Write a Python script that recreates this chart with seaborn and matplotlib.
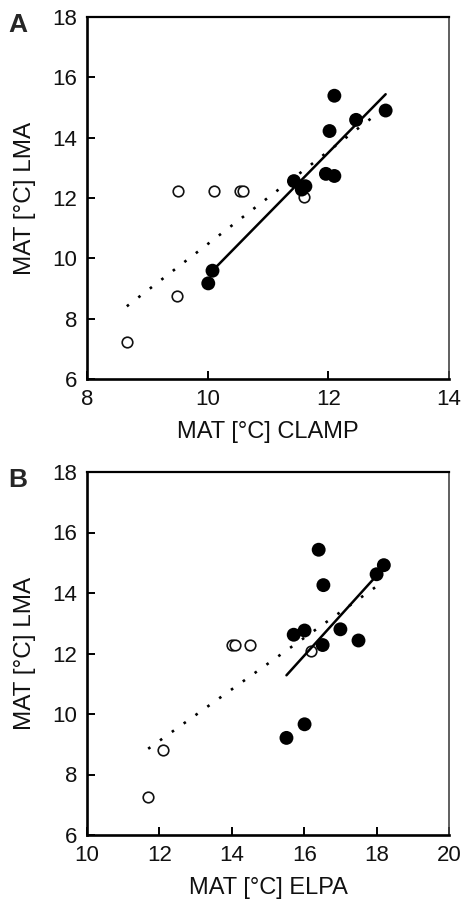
import matplotlib
matplotlib.use("Agg")
import matplotlib.pyplot as plt
import seaborn as sns
import numpy as np

# ---------------- data ----------------
# Panel A: CLAMP vs LMA
clamp_open = [8.66, 9.49, 9.50, 10.11, 10.54, 10.58, 11.59]
lma_open_A = [7.22, 8.76, 12.24, 12.24, 12.24, 12.24, 12.03]
clamp_filled = [10.01, 10.08, 11.43, 11.62, 11.56, 11.96, 12.10, 12.02, 12.10, 12.46, 12.95]
lma_filled_A = [9.17, 9.59, 12.56, 12.39, 12.28, 12.80, 12.73, 14.22, 15.39, 14.59, 14.90]
fitA_solid_x = [10.08, 12.95]
fitA_solid_y = [9.59, 15.44]
fitA_dotted_x = [8.66, 12.95]
fitA_dotted_y = [8.41, 15.01]

# Panel B: ELPA vs LMA
elpa_open = [11.69, 12.10, 14.01, 14.08, 14.50, 16.19]
lma_open_B = [7.26, 8.81, 12.27, 12.27, 12.27, 12.07]
elpa_filled = [15.51, 16.01, 15.71, 17.50, 16.51, 17.00, 16.01, 16.53, 16.40, 18.00, 18.20]
lma_filled_B = [9.21, 9.66, 12.62, 12.43, 12.28, 12.80, 12.76, 14.26, 15.43, 14.62, 14.92]
fitB_solid_x = [15.51, 18.20]
fitB_solid_y = [11.28, 14.84]
fitB_dotted_x = [11.69, 18.20]
fitB_dotted_y = [8.85, 14.39]

ylabel = "MAT [°C] LMA"
xlabels = ["MAT [°C] CLAMP", "MAT [°C] ELPA"]
panel_letters = ["A", "B"]
xlims = [(8, 14), (10, 20)]
xticks = [[8, 10, 12, 14], [10, 12, 14, 16, 18, 20]]
yticks = [6, 8, 10, 12, 14, 16, 18]

# ---------------- style ----------------
sns.set_theme(style="white")
plt.rcParams["font.family"] = ["Liberation Sans", "DejaVu Sans"]

fig = plt.figure(figsize=(4.65, 8.99), dpi=100)
axA = fig.add_axes([87 / 465, 1 - 379 / 899, 362 / 465, 362 / 899])
axB = fig.add_axes([87 / 465, 1 - 835 / 899, 362 / 465, 363 / 899])

panels = [
    (axA, clamp_open, lma_open_A, clamp_filled, lma_filled_A,
     fitA_solid_x, fitA_solid_y, fitA_dotted_x, fitA_dotted_y),
    (axB, elpa_open, lma_open_B, elpa_filled, lma_filled_B,
     fitB_solid_x, fitB_solid_y, fitB_dotted_x, fitB_dotted_y),
]

for i, (ax, xo, yo, xf, yf, sx, sy, dx, dy) in enumerate(panels):
    sns.lineplot(x=dx, y=dy, ax=ax, color="black", lw=1.9,
                 linestyle=(0, (1, 4.5)), zorder=2)
    sns.scatterplot(x=xo, y=yo, ax=ax, marker="o", s=58,
                    facecolor="white", edgecolor="#111111", linewidth=1.2,
                    zorder=3)
    sns.lineplot(x=sx, y=sy, ax=ax, color="black", lw=1.8, zorder=4)
    sns.scatterplot(x=xf, y=yf, ax=ax, marker="o", s=100,
                    color="black", edgecolor="none", zorder=5)

    ax.set_xlim(*xlims[i])
    ax.set_ylim(6, 18)
    ax.set_xticks(xticks[i])
    ax.set_yticks(yticks)
    ax.tick_params(direction="in", length=5.5, width=1.4, labelsize=16,
                   pad=7, colors="black", labelcolor="#111111",
                   top=False, right=False, left=True, bottom=True)
    for side, lw in [("left", 1.9), ("bottom", 1.9), ("top", 1.6), ("right", 1.2)]:
        ax.spines[side].set_linewidth(lw)
        ax.spines[side].set_color("black" if side != "right" else "#444444")
        ax.spines[side].set_visible(True)
    ax.set_xlabel(xlabels[i], fontsize=17, color="#111111", labelpad=8)
    ax.set_ylabel(ylabel, fontsize=17.5, color="#111111", labelpad=12)
    ax.grid(False)

fig.text(8 / 465, 1 - 13 / 899, panel_letters[0], fontsize=19, fontweight="bold",
         ha="left", va="top")
fig.text(8 / 465, 1 - 468 / 899, panel_letters[1], fontsize=19, fontweight="bold",
         ha="left", va="top")

fig.savefig("out.png", dpi=100, facecolor="white")
